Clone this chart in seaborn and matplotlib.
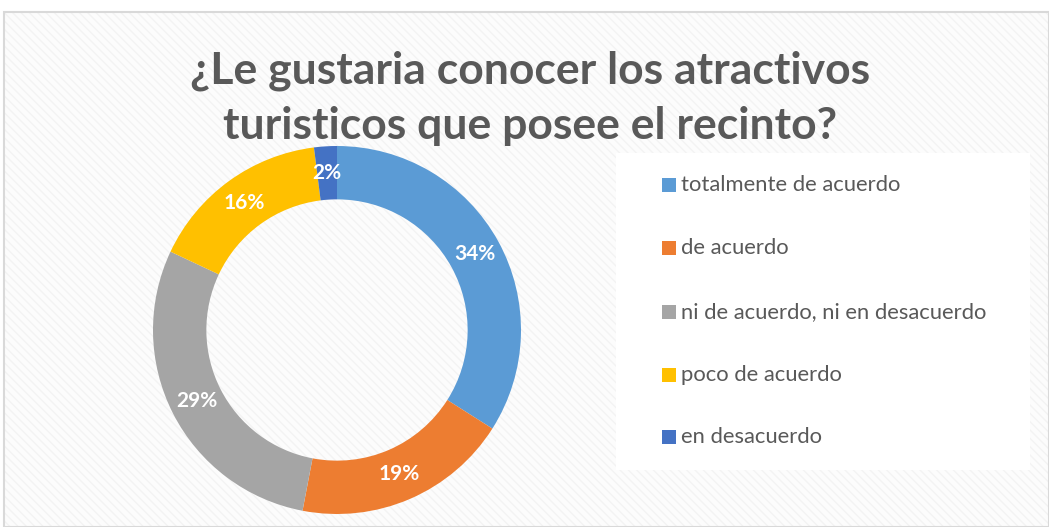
import matplotlib
matplotlib.use("Agg")
import matplotlib.pyplot as plt
from matplotlib.patches import Rectangle
import seaborn as sns

categories = ["totalmente de acuerdo", "de acuerdo", "ni de acuerdo, ni en desacuerdo",
              "poco de acuerdo", "en desacuerdo"]
values = [34, 19, 29, 16, 2]
colors = ["#5B9BD5", "#ED7D31", "#A5A5A5", "#FFC000", "#4472C4"]
title = "¿Le gustaria conocer los atractivos\nturisticos que posee el recinto?"

sns.set_theme(style="white")
plt.rcParams["font.family"] = ["Lato", "DejaVu Sans"]

W, H = 1049, 527
fig = plt.figure(figsize=(W / 100, H / 100), dpi=100)
fig.patch.set_facecolor("white")

# chart area frame with faint diagonal texture
bg = fig.add_axes([0, 0, 1, 1])
bg.set_xlim(0, W)
bg.set_ylim(H, 0)
bg.axis("off")
bg.add_patch(Rectangle((4, 12), W - 4, H - 12, facecolor="#fcfcfc",
                       edgecolor="#f3f3f3", lw=0, hatch="\\\\\\\\", zorder=0))
bg.add_patch(Rectangle((4, 12), W - 4, H - 12, facecolor="none",
                       edgecolor="#d9d9d9", lw=1.5, zorder=0.5))
bg.add_patch(Rectangle((616, 153), 414, 317, facecolor="white", edgecolor="none", zorder=1))

bg.text(530, 98, title, ha="center", va="center", fontsize=32, fontweight="bold",
        color="#595959", linespacing=1.45)

# donut
cx, cy, r = 337, 330, 184
ax = fig.add_axes([(cx - r) / W, (H - cy - r) / H, 2 * r / W, 2 * r / H])
wedges, texts, autotexts = ax.pie(
    values, colors=colors, startangle=90, counterclock=False,
    autopct=lambda p: f"{p:.0f}%", pctdistance=0.855,
    wedgeprops=dict(width=0.29, edgecolor="none"),
    textprops=dict(color="white", fontsize=15, fontweight="bold"),
)
ax.set_xlim(-1, 1)
ax.set_ylim(-1, 1)
ax.set_aspect("equal")

# legend
ys = [185, 248, 312, 375, 437]
for y, lab, c in zip(ys, categories, colors):
    bg.add_patch(Rectangle((662, y - 7), 14, 14, facecolor=c, edgecolor="none", zorder=2))
    bg.text(681, y, lab, ha="left", va="center", fontsize=15.8, color="#595959", zorder=2)

fig.savefig("out.png", dpi=100)
plt.close(fig)
